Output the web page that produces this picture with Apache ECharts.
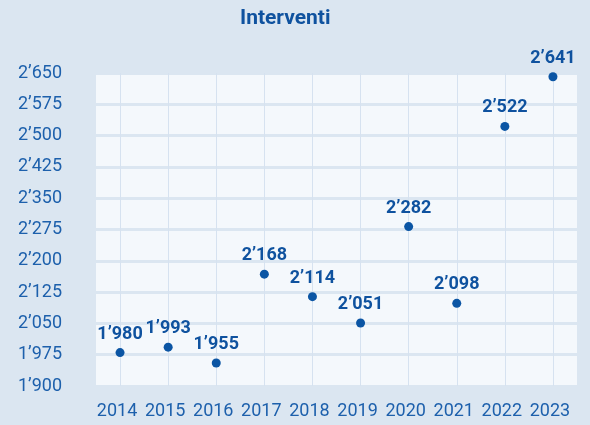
<!DOCTYPE html>
<html>
<head>
<meta charset="utf-8">
<title>Interventi</title>
<script src="https://cdn.jsdelivr.net/npm/echarts@6/dist/echarts.min.js"></script>
<style>
  html, body { margin: 0; padding: 0; background: #dbe6f1; }
  #chart { width: 590px; height: 425px; }
</style>
</head>
<body>
<div id="chart"></div>
<script>
// dati
var anni = ['2014', '2015', '2016', '2017', '2018', '2019', '2020', '2021', '2022', '2023']
var interventi = [1980, 1993, 1955, 2168, 2114, 2051, 2282, 2098, 2522, 2641]
var yMin = 1900
var yMax = 2650
var yStep = 75

var blu = '#0f529f'

// 2650 -> 2’650
function fmt (v) {
  return String(v).replace(/\B(?=(\d{3})+(?!\d))/g, '\u2019')
}

var myChart = echarts.init(document.getElementById('chart'))

var option = {
  backgroundColor: '#dbe6f1',
  title: {
    text: 'Interventi',
    left: 240,
    top: 8,
    padding: 0,
    textStyle: {
      color: blu,
      fontFamily: 'Roboto',
      fontWeight: 'bold',
      fontSize: 21
    }
  },
  grid: {
    left: 96,
    right: 13,
    top: 73,
    bottom: 39,
    show: true,
    borderWidth: 0,
    backgroundColor: '#f4f8fc'
  },
  xAxis: {
    type: 'category',
    data: anni,
    axisLine: { show: false },
    axisTick: { show: false },
    axisLabel: {
      interval: 0,
      color: '#1d60ac',
      fontFamily: 'Roboto',
      fontSize: 18,
      margin: 16,
      padding: [0, 6, 0, 0]
    },
    splitLine: {
      show: true,
      interval: 0,
      alignWithLabel: true,
      lineStyle: { color: '#d6e2f0', width: 1 }
    }
  },
  yAxis: {
    type: 'value',
    min: yMin,
    max: yMax,
    interval: yStep,
    axisLine: { show: false },
    axisTick: { show: false },
    axisLabel: {
      color: '#1d60ac',
      fontFamily: 'Roboto',
      fontSize: 18,
      margin: 34,
      padding: [6, 0, 0, 0],
      formatter: fmt
    },
    splitLine: {
      lineStyle: { color: '#dbe6f1', width: 3 }
    }
  },
  series: [
    {
      type: 'scatter',
      data: interventi,
      symbolSize: 9,
      itemStyle: { color: '#0b55a4', opacity: 1 },
      label: {
        show: true,
        position: 'top',
        color: blu,
        fontFamily: 'Roboto',
        fontWeight: 'bold',
        fontSize: 18,
        formatter: function (p) { return fmt(p.value) }
      }
    }
  ]
}

myChart.setOption(option)
</script>
</body>
</html>
